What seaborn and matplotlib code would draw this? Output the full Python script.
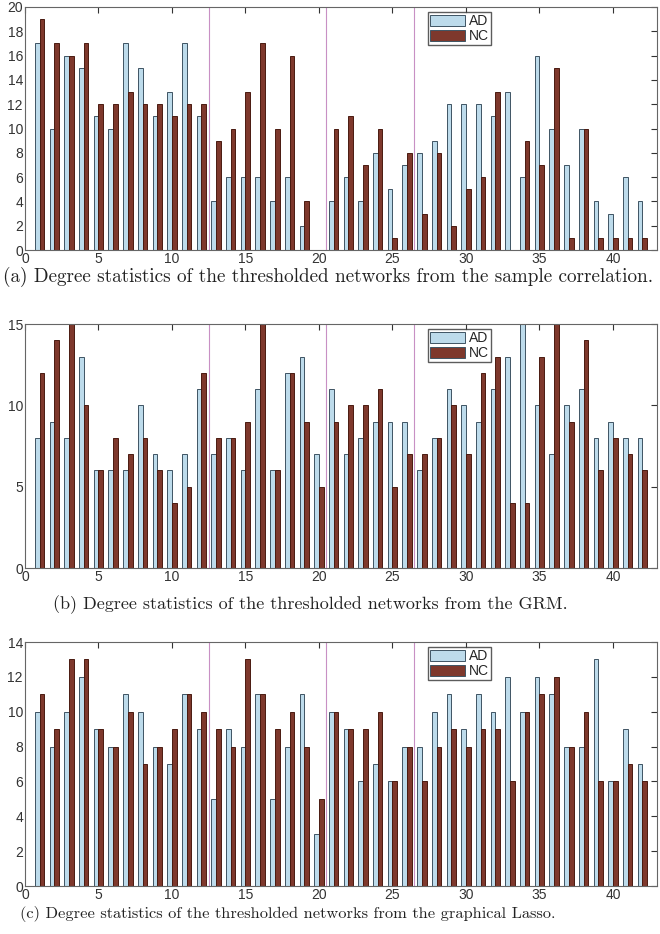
import matplotlib
matplotlib.use("Agg")
import matplotlib.pyplot as plt
import seaborn as sns
import numpy as np
import pandas as pd

# node index 1..42
nodes = list(range(1, 43))

# (a) sample correlation
ad_corr = [17, 10, 16, 15, 11, 10, 17, 15, 11, 13, 17, 11, 4, 6, 6, 6, 4, 6, 2, 0, 4,
           6, 4, 8, 5, 7, 8, 9, 12, 12, 12, 11, 13, 6, 16, 10, 7, 10, 4, 3, 6, 4]
nc_corr = [19, 17, 16, 17, 12, 12, 13, 12, 12, 11, 12, 12, 9, 10, 13, 17, 10, 16, 4, 0, 10,
           11, 7, 10, 1, 8, 3, 8, 2, 5, 6, 13, 0, 9, 7, 15, 1, 10, 1, 1, 1, 1]

# (b) GRM
ad_grm = [8, 9, 8, 13, 6, 6, 6, 10, 7, 6, 7, 11, 7, 8, 6, 11, 6, 12, 13, 7, 11,
          7, 8, 9, 9, 9, 6, 8, 11, 10, 9, 11, 13, 15, 10, 7, 10, 11, 8, 9, 8, 8]
nc_grm = [12, 14, 15, 10, 6, 8, 7, 8, 6, 4, 5, 12, 8, 8, 9, 15, 6, 12, 9, 5, 9,
          10, 10, 11, 5, 7, 7, 8, 10, 7, 12, 13, 4, 4, 13, 15, 9, 14, 6, 8, 7, 6]

# (c) graphical Lasso
ad_lasso = [10, 8, 10, 12, 9, 8, 11, 10, 8, 7, 11, 9, 5, 9, 8, 11, 5, 8, 11, 3, 10,
            9, 6, 7, 6, 8, 8, 10, 11, 9, 11, 10, 12, 10, 12, 11, 8, 8, 13, 6, 9, 7]
nc_lasso = [11, 9, 13, 13, 9, 8, 10, 7, 8, 9, 11, 10, 9, 8, 13, 11, 9, 10, 8, 5, 10,
            9, 9, 10, 6, 8, 6, 8, 9, 8, 9, 9, 6, 10, 11, 12, 8, 10, 6, 6, 7, 6]

group_bounds = [12.5, 20.5, 26.5]

captions = [
    "(a) Degree statistics of the thresholded networks from the sample correlation.",
    "(b) Degree statistics of the thresholded networks from the GRM.",
    "(c) Degree statistics of the thresholded networks from the graphical Lasso.",
]
ymax = [20, 15, 14]
ystep = [2, 5, 2]

ad_color = "#B5DEF3"
nc_color = "#8B2E1F"

panels = [(ad_corr, nc_corr), (ad_grm, nc_grm), (ad_lasso, nc_lasso)]

# axes boxes in pixels: top, bottom
boxes = [(7, 250), (324, 568), (642, 886)]
cap_pos = [(3, 277), (53, 605), (20, 914)]
cap_size = [13.8, 13.0, 11.8]

W, H = 660, 934
fig = plt.figure(figsize=(W / 100, H / 100), dpi=100)
sns.set_style("white")
plt.rcParams['font.family'] = ['Liberation Sans', 'DejaVu Sans']

for i, (ad, nc) in enumerate(panels):
    top, bot = boxes[i]
    ax = fig.add_axes([25 / W, 1 - bot / H, 632 / W, (bot - top) / H])
    df = pd.DataFrame({
        "node": nodes + nodes,
        "degree": ad + nc,
        "group": ["AD"] * len(nodes) + ["NC"] * len(nodes),
    })
    sns.barplot(data=df, x="node", y="degree", hue="group",
                palette=[ad_color, nc_color], native_scale=True,
                width=0.64, gap=0, errorbar=None, ax=ax,
                edgecolor="#3F5463", linewidth=0.7)
    # NC bars get a darker edge
    for patch in ax.containers[1]:
        patch.set_edgecolor("#4A1A10")
    for b in group_bounds:
        ax.axvline(b, color="#C890C4", lw=0.8, zorder=0)
    ax.set_xlim(0, 43)
    ax.set_ylim(0, ymax[i])
    ax.set_xticks(range(0, 41, 5))
    ax.set_yticks(range(0, ymax[i] + 1, ystep[i]))
    ax.set_xlabel("")
    ax.set_ylabel("")
    ax.tick_params(direction="in", top=True, right=True, length=4,
                   labelsize=10, colors="#333333", pad=1.5)
    for s in ax.spines.values():
        s.set_color("#666666")
        s.set_linewidth(0.8)
    sns.move_legend(ax, "upper left", bbox_to_anchor=(0.638, 0.98),
                    title=None, fontsize=10, frameon=True, fancybox=False,
                    edgecolor="#333333", handlelength=2.5, handleheight=0.85,
                    borderpad=0.15, labelspacing=0.1, handletextpad=0.3,
                    borderaxespad=0)
    cx, cy = cap_pos[i]
    fig.text(cx / W, 1 - cy / H, captions[i], ha="left", va="center",
             family="cmr10", fontsize=cap_size[i], color="#222222")

fig.savefig("out.png", dpi=100)
